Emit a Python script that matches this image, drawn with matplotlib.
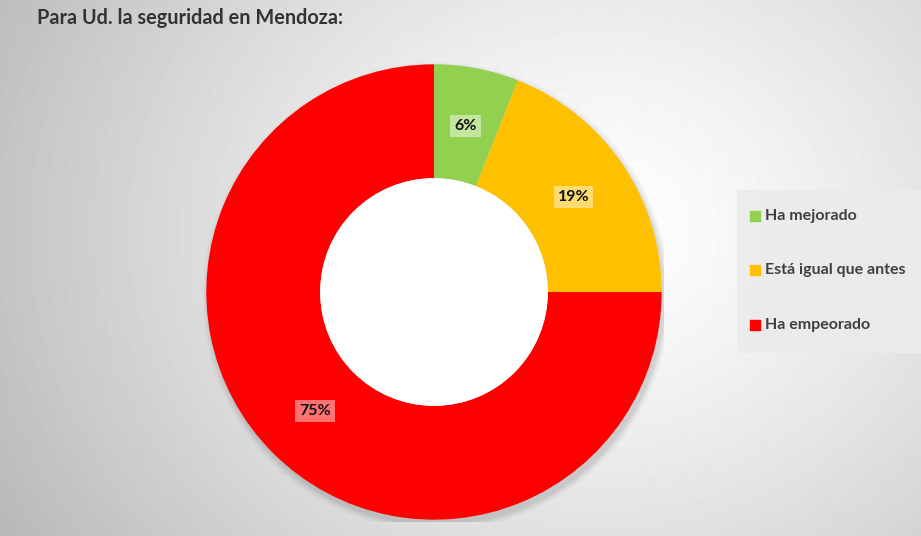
import matplotlib.pyplot as plt
import numpy as np

plt.rcParams['font.family'] = ['Lato', 'DejaVu Sans']

# datos de la encuesta
categorias = ["Ha mejorado", "Está igual que antes", "Ha empeorado"]
valores = [6, 19, 75]
colores = ["#92d050", "#ffc000", "#ff0000"]
titulo = "Para Ud. la seguridad en Mendoza:"

W, H = 921, 536
fig = plt.figure(figsize=(W / 100, H / 100), dpi=100)

# fondo con degradado radial
bg = fig.add_axes([0, 0, 1, 1], zorder=0)
yy, xx = np.mgrid[0:H, 0:W]
d = np.sqrt(((xx - 600) / 700.0) ** 2 + ((yy - 230) / 600.0) ** 2)
g = np.clip(1.0 - 0.28 * d ** 1.3, 0, 1)
bg.imshow(g, cmap="gray", vmin=0, vmax=1, extent=[0, W, H, 0], aspect="auto")
bg.set_xlim(0, W)
bg.set_ylim(H, 0)
bg.axis("off")

# rosca
cx, cy, r = 434, 292, 230
ax = fig.add_axes([(cx - r) / W, (H - cy - r) / H, 2 * r / W, 2 * r / H], zorder=2)

# sombra suave
for k, a in enumerate([0.05, 0.04, 0.03, 0.02]):
    ax.add_patch(plt.Circle((0.01, -0.02), 0.995 + k * 0.008, color="black", alpha=a, lw=0))

wedges, _ = ax.pie(valores, colors=colores, startangle=90, counterclock=False,
                   radius=0.99, wedgeprops=dict(width=0.495, linewidth=0))
ax.add_patch(plt.Circle((0, 0), 0.495, color="white", lw=0, zorder=3))
ax.set_xlim(-1.0, 1.0)
ax.set_ylim(-1.0, 1.0)
ax.set_aspect("equal")
ax.axis("off")

for w, v in zip(wedges, valores):
    ang = np.deg2rad((w.theta1 + w.theta2) / 2)
    x, y = 0.74 * 0.99 * np.cos(ang), 0.74 * 0.99 * np.sin(ang)
    ax.text(x, y, f"{v}%", ha="center", va="center", fontsize=11.5, fontweight="bold",
            color="#111111", zorder=5,
            bbox=dict(boxstyle="square,pad=0.25", fc="white", ec="none", alpha=0.45))

# titulo
fig.text(37 / W, 1 - 18 / H, titulo, ha="left", va="center", fontsize=14.3,
         fontweight="bold", color="#333333", zorder=5)

# leyenda
lax = fig.add_axes([737 / W, (H - 353) / H, (W - 737) / W, 163 / H], zorder=3)
lax.set_xlim(0, 1)
lax.set_ylim(0, 1)
lax.set_facecolor("#ebebeb")
lax.patch.set_alpha(0.9)
for s in lax.spines.values():
    s.set_visible(False)
lax.set_xticks([])
lax.set_yticks([])
ys = [1 - (216 - 190) / 163, 1 - (270 - 190) / 163, 1 - (325 - 190) / 163]
for yl, c, t in zip(ys, colores, categorias):
    lax.scatter([(755 - 737) / 184], [yl], marker="s", s=50, color=c)
    lax.text((765 - 737) / 184, yl, t, ha="left", va="center", fontsize=11.5,
             fontweight="bold", color="#404040")

fig.savefig("out.png", dpi=100)
